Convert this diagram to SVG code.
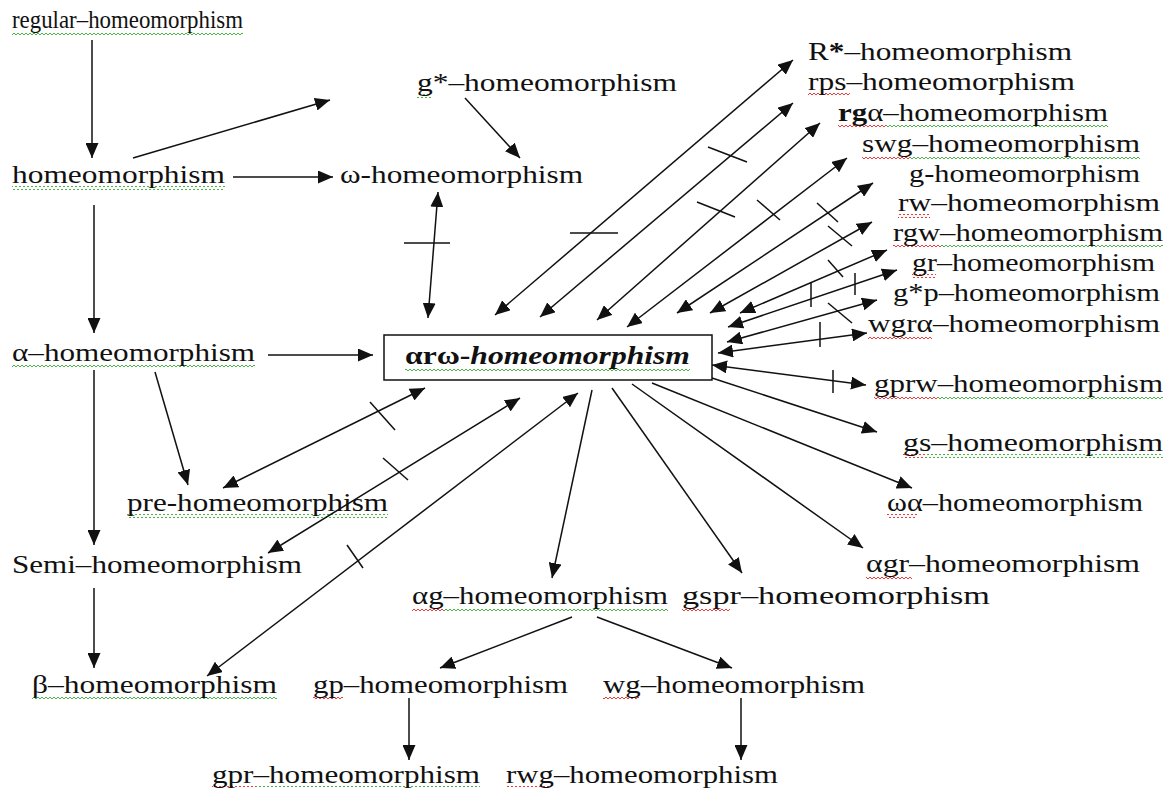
<svg xmlns="http://www.w3.org/2000/svg" width="1174" height="789" viewBox="0 0 1174 789">
<style>
text{font-family:"Liberation Serif","Times New Roman",serif;font-size:25px;fill:#111;}
.c path{fill:none;stroke:#111;stroke-width:1.5;}
.e{marker-end:url(#ah);}
.d{marker-start:url(#ah);marker-end:url(#ah);}
.tk{fill:none;stroke:#111;stroke-width:1.3;}
.bt{fill:none;stroke:#111;stroke-width:3.5;}
</style>
<defs>
<marker id="ah" markerUnits="userSpaceOnUse" markerWidth="16" markerHeight="13" refX="15" refY="6.5" orient="auto-start-reverse">
<path d="M0,0 L15,6.5 L0,13 z" fill="#111"/>
</marker>
<pattern id="sg" width="4" height="4" patternUnits="userSpaceOnUse">
<path d="M0,3 L2,1 L4,3" fill="none" stroke="#3a3" stroke-width="0.9"/>
</pattern>
<pattern id="sr" width="4" height="4" patternUnits="userSpaceOnUse">
<path d="M0,3 L2,1 L4,3" fill="none" stroke="#e22" stroke-width="0.9"/>
</pattern>
</defs>
<rect width="1174" height="789" fill="#fff"/>

<g id="squiggles">
<rect x="12" y="31" width="231" height="4" fill="url(#sg)"/>
<rect x="417" y="94" width="14" height="4" fill="url(#sg)"/>
<rect x="12" y="186" width="213" height="4" fill="url(#sg)"/>
<rect x="12" y="364" width="243" height="4" fill="url(#sg)"/>
<rect x="405" y="368" width="285" height="4" fill="url(#sg)"/>
<rect x="127" y="514" width="261" height="4" fill="url(#sg)"/>
<rect x="412" y="607" width="32" height="4" fill="url(#sr)"/>
<rect x="444" y="607" width="224" height="4" fill="url(#sg)"/>
<rect x="682" y="607" width="48" height="4" fill="url(#sr)"/>
<rect x="32" y="696" width="245" height="4" fill="url(#sg)"/>
<rect x="313" y="696" width="30" height="4" fill="url(#sr)"/>
<rect x="603" y="696" width="36" height="4" fill="url(#sr)"/>
<rect x="212" y="786" width="44" height="3" fill="url(#sr)"/>
<rect x="256" y="786" width="224" height="3" fill="url(#sg)"/>
<rect x="506" y="786" width="44" height="3" fill="url(#sr)"/>
<rect x="808" y="93" width="42" height="4" fill="url(#sr)"/>
<rect x="838" y="124" width="48" height="4" fill="url(#sr)"/>
<rect x="886" y="124" width="222" height="4" fill="url(#sg)"/>
<rect x="862" y="155" width="48" height="4" fill="url(#sr)"/>
<rect x="910" y="155" width="230" height="4" fill="url(#sg)"/>
<rect x="898" y="214" width="32" height="4" fill="url(#sr)"/>
<rect x="893" y="244" width="48" height="4" fill="url(#sr)"/>
<rect x="941" y="244" width="222" height="4" fill="url(#sg)"/>
<rect x="912" y="274" width="24" height="4" fill="url(#sr)"/>
<rect x="868" y="335" width="64" height="4" fill="url(#sr)"/>
<rect x="874" y="395" width="64" height="4" fill="url(#sr)"/>
<rect x="938" y="395" width="225" height="4" fill="url(#sg)"/>
<rect x="903" y="454" width="22" height="4" fill="url(#sr)"/>
<rect x="925" y="454" width="238" height="4" fill="url(#sg)"/>
<rect x="887" y="514" width="30" height="4" fill="url(#sr)"/>
<rect x="866" y="575" width="46" height="4" fill="url(#sr)"/>
</g>

<g class="c" id="connectors">
<path class="e" d="M92,40 V158"/>
<path class="e" d="M133,158 L330,100"/>
<path class="e" d="M233,177 L333,177"/>
<path class="e" d="M465,98 L520,158"/>
<path class="e" d="M94,205 V333"/>
<path class="d" d="M438,192 L428,318"/>
<path class="e" d="M268,355 L373,355"/>
<path class="e" d="M94,370 V545"/>
<path class="e" d="M155,372 L188,485"/>
<path class="d" d="M425,388 L223,488"/>
<path class="d" d="M520,398 L268,553"/>
<path class="d" d="M578,393 L207,676"/>
<path class="e" d="M592,390 L552,578"/>
<path class="e" d="M612,388 L742,573"/>
<path class="e" d="M632,384 L863,548"/>
<path class="e" d="M652,383 L912,488"/>
<path class="e" d="M712,378 L877,432"/>
<path class="d" d="M712,365 L866,385"/>
<path class="d" d="M718,353 L867,333"/>
<path class="d" d="M727,342 L877,300"/>
<path class="d" d="M728,327 L897,270"/>
<path class="d" d="M740,313 L887,250"/>
<path class="d" d="M710,313 L872,222"/>
<path class="d" d="M677,313 L873,183"/>
<path class="d" d="M627,327 L847,158"/>
<path class="d" d="M597,320 L820,123"/>
<path class="d" d="M540,317 L793,103"/>
<path class="d" d="M495,315 L793,60"/>
<path class="e" d="M572,617 L440,668"/>
<path class="e" d="M597,617 L732,668"/>
<path class="e" d="M409,698 V760"/>
<path class="e" d="M741,698 V760"/>
<path class="e" d="M94,588 V668"/>
<path class="tk" d="M404,243 H450"/>
<path class="tk" d="M370,402 L395,430"/>
<path class="tk" d="M383,458 L408,480"/>
<path class="tk" d="M347,545 L363,568"/>
<path class="tk" d="M570,233 H618"/>
<path class="tk" d="M708,147 L747,162"/>
<path class="tk" d="M697,202 L735,217"/>
<path class="tk" d="M757,200 L780,220"/>
<path class="tk" d="M817,203 L838,222"/>
<path class="tk" d="M828,226 L852,246"/>
<path class="tk" d="M828,260 L843,277"/>
<path class="bt" d="M811,282 V307"/>
<path class="tk" d="M855,273 V295"/>
<path class="tk" d="M828,303 L852,323"/>
<path class="tk" d="M820,322 V347"/>
<path class="tk" d="M833,370 V393"/>
</g>

<g id="n-regular"><text x="12" y="28" textLength="231" lengthAdjust="spacingAndGlyphs">regular–homeomorphism</text></g>
<g id="n-gstar"><text x="417" y="91" textLength="260" lengthAdjust="spacingAndGlyphs">g*–homeomorphism</text></g>
<g id="n-homeo"><text x="12" y="183" textLength="213" lengthAdjust="spacingAndGlyphs">homeomorphism</text></g>
<g id="n-omega"><text x="340" y="183" textLength="243" lengthAdjust="spacingAndGlyphs">ω-homeomorphism</text></g>
<g id="n-alpha"><text x="12" y="361" textLength="243" lengthAdjust="spacingAndGlyphs">α–homeomorphism</text></g>
<g id="n-main">
<rect x="384" y="335" width="328" height="45" fill="none" stroke="#111" stroke-width="1.5"/>
<text x="405" y="364" textLength="285" lengthAdjust="spacingAndGlyphs" font-weight="bold"><tspan>αrω-</tspan><tspan font-style="italic">homeomorphism</tspan></text>
</g>
<g id="n-pre"><text x="127" y="511" textLength="261" lengthAdjust="spacingAndGlyphs">pre-homeomorphism</text></g>
<g id="n-semi"><text x="12" y="573" textLength="290" lengthAdjust="spacingAndGlyphs">Semi–homeomorphism</text></g>
<g id="n-ag"><text x="412" y="604" textLength="256" lengthAdjust="spacingAndGlyphs">αg–homeomorphism</text></g>
<g id="n-gspr"><text x="682" y="604" textLength="308" lengthAdjust="spacingAndGlyphs">gspr–homeomorphism</text></g>
<g id="n-beta"><text x="32" y="693" textLength="245" lengthAdjust="spacingAndGlyphs">β–homeomorphism</text></g>
<g id="n-gp"><text x="313" y="693" textLength="255" lengthAdjust="spacingAndGlyphs">gp–homeomorphism</text></g>
<g id="n-wg"><text x="603" y="693" textLength="262" lengthAdjust="spacingAndGlyphs">wg–homeomorphism</text></g>
<g id="n-gpr"><text x="212" y="783" textLength="268" lengthAdjust="spacingAndGlyphs">gpr–homeomorphism</text></g>
<g id="n-rwg"><text x="506" y="783" textLength="272" lengthAdjust="spacingAndGlyphs">rwg–homeomorphism</text></g>
<g id="n-rstar"><text x="808" y="60" textLength="264" lengthAdjust="spacingAndGlyphs">R<tspan font-weight="bold">*</tspan>–homeomorphism</text></g>
<g id="n-rps"><text x="808" y="90" textLength="267" lengthAdjust="spacingAndGlyphs">rps–homeomorphism</text></g>
<g id="n-rga"><text x="838" y="121" textLength="270" lengthAdjust="spacingAndGlyphs"><tspan font-weight="bold">rg</tspan>α–homeomorphism</text></g>
<g id="n-swg"><text x="862" y="152" textLength="278" lengthAdjust="spacingAndGlyphs">swg–homeomorphism</text></g>
<g id="n-g"><text x="909" y="182" textLength="231" lengthAdjust="spacingAndGlyphs">g-homeomorphism</text></g>
<g id="n-rw"><text x="898" y="211" textLength="262" lengthAdjust="spacingAndGlyphs">rw–homeomorphism</text></g>
<g id="n-rgw"><text x="893" y="241" textLength="270" lengthAdjust="spacingAndGlyphs">rgw–homeomorphism</text></g>
<g id="n-gr"><text x="912" y="271" textLength="243" lengthAdjust="spacingAndGlyphs">gr–homeomorphism</text></g>
<g id="n-gsp"><text x="893" y="301" textLength="267" lengthAdjust="spacingAndGlyphs">g*p–homeomorphism</text></g>
<g id="n-wgra"><text x="868" y="332" textLength="292" lengthAdjust="spacingAndGlyphs">wgrα–homeomorphism</text></g>
<g id="n-gprw"><text x="874" y="392" textLength="289" lengthAdjust="spacingAndGlyphs">gprw–homeomorphism</text></g>
<g id="n-gs"><text x="903" y="451" textLength="260" lengthAdjust="spacingAndGlyphs">gs–homeomorphism</text></g>
<g id="n-wa"><text x="887" y="511" textLength="256" lengthAdjust="spacingAndGlyphs">ωα–homeomorphism</text></g>
<g id="n-agr"><text x="866" y="572" textLength="274" lengthAdjust="spacingAndGlyphs">αgr–homeomorphism</text></g>
</svg>
